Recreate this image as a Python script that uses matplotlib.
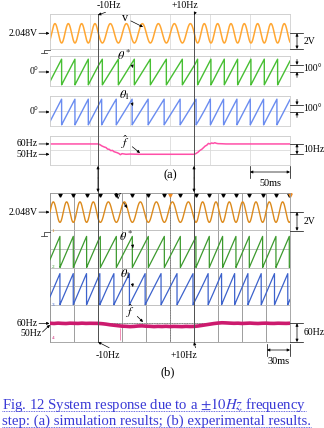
import numpy as np
import matplotlib
matplotlib.use('Agg')
import matplotlib.pyplot as plt
from matplotlib import transforms

plt.rcParams['font.family'] = ['Liberation Serif', 'DejaVu Serif']
plt.rcParams['mathtext.fontset'] = 'stix'

W, H = 324, 428

# ---- values ----
step_t = [60, 180]            # ms, -10Hz / +10Hz step instants
f_grid = [60, 50, 60]         # Hz, grid frequency in the three intervals
v_dc = 2.048                  # V offset
v_amp_a = 1.24                # V, simulated amplitude
v_amp_b = 1.1                 # V, measured amplitude
theta0_a = -135               # deg, phase at t=0 (a)
theta0_b = -90                # deg, phase at t=0 (b)

# estimated frequency, simulation (a)
fa_t = [0, 60, 62, 65, 68, 70, 72, 74, 76, 78, 80, 82, 84, 86, 88, 90, 95, 100, 110,
        180, 182, 185, 187, 190, 192, 194, 196, 198, 200, 202, 204, 206, 208, 210, 215, 220, 300]
fa_f = [60, 60, 59.5, 58, 57, 56.5, 55, 54.8, 53.5, 53.8, 52.5, 52, 51.5, 50.8, 49.6, 50.6, 50, 50.2, 50,
        50, 50.5, 52, 53.5, 55, 56.5, 58, 58.8, 60.5, 60, 61, 60.5, 61.2, 60.6, 60.3, 60.2, 60, 60]

# estimated frequency, experiment (b), every 5 ms
fb_t = list(range(0, 301, 5))
fb_f = [60.4, 59.6, 60.8, 60.0, 59.5, 60.6, 60.2, 59.8, 60.7, 59.9, 60.3, 60.1,
        60.0,
        59.0, 57.5, 55.5, 54.0, 52.5, 51.0, 50.5, 49.5,
        50.2, 51.5, 52.0, 51.0, 50.5, 49.6, 50.4, 49.8, 50.6, 49.7, 50.3, 50.0, 49.5, 50.4, 49.8, 50.2,
        51.5, 53.5, 55.5, 57.5, 59.5, 61.0, 62.0, 61.5,
        60.8, 60.2, 60.6, 59.7, 60.3, 60.9, 60.1, 59.6, 60.4, 60.7, 60.0, 59.8, 60.5, 60.2, 59.9, 60.4]
glitch_t = 87.5
glitch_f = [8, 45]

# colours
c_v, c_s, c_1, c_f = '#ffa733', '#47bf33', '#6a8cf0', '#ff4fa8'
cb_v, cb_s, cb_1, cb_f = '#dc8a1c', '#3c9a2e', '#3c62cc', '#cc1a6e'
c_cap = '#3a3ad6'

fig = plt.figure(figsize=(W / 100, H / 100), dpi=100)


def px_axes(x0, y0, x1, y1, **kw):
    return fig.add_axes([x0 / W, 1 - y1 / H, (x1 - x0) / W, (y1 - y0) / H], **kw)


# phase from frequency profile
t = np.linspace(0, 300, 6001)
dt = t[1] - t[0]
f_ref = np.select([t < step_t[0], t < step_t[1]], [f_grid[0], f_grid[1]], f_grid[2])


def phase(f, th0):
    return th0 + 360 * np.cumsum(f) * dt / 1000


ph_a = phase(f_ref, theta0_a)
ph_a1 = phase(np.interp(t, fa_t, fa_f), theta0_a)
ph_b = phase(f_ref, theta0_b)
ph_b1 = phase(np.interp(t, fb_t, fb_f), theta0_b)


def wrap180(p):
    return (p + 180) % 360 - 180


# ---------------- (a) simulation ----------------
def style_a(ax, ylim):
    ax.set_xlim(0, 300)
    ax.set_ylim(*ylim)
    ax.set_xticks(np.arange(0, 301, 50))
    ax.set_yticks(np.linspace(ylim[0], ylim[1], 3))
    ax.grid(True, color='#dadada', lw=0.6)
    ax.tick_params(length=0, labelbottom=False, labelleft=False)
    for s in ax.spines.values():
        s.set_color('#cfcfcf')
        s.set_linewidth(0.6)


ax_v = px_axes(50, 14, 290, 49.3)
ax_v.plot(t, v_dc + v_amp_a * np.cos(np.radians(ph_a)), color=c_v, lw=1.1)
style_a(ax_v, (0, 4.52))

ax_s = px_axes(50, 55.7, 290, 85.7)
ax_s.plot(t, wrap180(ph_a), color=c_s, lw=1.0)
style_a(ax_s, (-192, 228))

ax_1 = px_axes(50, 95.7, 290, 125.7)
ax_1.plot(t, wrap180(ph_a1), color=c_1, lw=1.0)
style_a(ax_1, (-192, 228))

ax_f = px_axes(50, 135.7, 290, 165)
ax_f.plot(fa_t, fa_f, color=c_f, lw=1.1)
style_a(ax_f, (39.6, 68))

# ---------------- (b) experiment ----------------
ax_b = px_axes(50, 193, 290, 342)
ax_b.set_xlim(0, 300)
ax_b.set_ylim(0, 8)
ax_b.set_xticks(np.arange(0, 301, 30))
ax_b.set_yticks(np.arange(0, 9))
ax_b.grid(axis='x', color='#8e8e8e', lw=0.6)
ax_b.grid(axis='y', color='#b8b8b8', lw=0.6)
ax_b.tick_params(length=0, labelbottom=False, labelleft=False)
for s in ax_b.spines.values():
    s.set_color('#9a9a9a')
    s.set_linewidth(0.6)
ax_b.axvline(150, color='#707070', lw=0.6, ls=(0, (1, 1)))
ax_b.axhline(1, color='#707070', lw=0.6, ls=(0, (1, 1)))

wraps = t[1:][np.diff((ph_b + 180) % 360) < -180]
ax_b.plot(wraps, np.full(len(wraps), 7.87), 'v', color='k', ms=2.4, clip_on=False)
ax_b.plot([150, 300], [7.9, 7.9], 'v', color='#f08a20', ms=2.4, clip_on=False)


def chan(ylim):
    a = fig.add_axes(ax_b.get_position(), frameon=False)
    a.set_xlim(0, 300)
    a.set_ylim(*ylim)
    a.axis('off')
    return a


ax_bv = chan((-11.9, 4.1))
ax_bv.plot(t, v_dc + v_amp_b * np.cos(np.radians(ph_b)), color=cb_v, lw=1.0)
ax_bs = chan((-860, 860))
ax_bs.plot(t, (ph_b + 180) % 360, color=cb_s, lw=0.9)
ax_b1 = chan((-430, 1290))
ax_b1.plot(t, (ph_b1 + 180) % 360, color=cb_1, lw=0.9)
ax_bf = chan((0, 480))
ax_bf.plot(fb_t, fb_f, color=cb_f, lw=2.6)
ax_bf.vlines(glitch_t, glitch_f[0], glitch_f[1], color='#f07aa8', lw=0.6)

# ---------------- overlay for annotations ----------------
ov = fig.add_axes([0, 0, 1, 1], frameon=False)
ov.set_xlim(0, W)
ov.set_ylim(H, 0)
ov.axis('off')


def ypx(ax, val):
    return H - ax.transData.transform((0, val))[1]


fs = 7.0
ap = dict(arrowstyle='-|>', lw=0.5, color='k', mutation_scale=4, shrinkA=0, shrinkB=0)
bt = transforms.blended_transform_factory(ax_v.transData, ov.transData)

# step lines
for ts in step_t:
    ov.plot([ts, ts], [14, 341], transform=bt, color='#505050', lw=0.7)
    ov.annotate('', xy=(ts, 166), xycoords=bt, xytext=(ts, 178), textcoords=bt, arrowprops=ap)
    ov.annotate('', xy=(ts, 192), xycoords=bt, xytext=(ts, 178), textcoords=bt, arrowprops=ap)

for ts, lab, xt in zip(step_t, ['-10Hz', '+10Hz'], [73, 168]):
    ov.annotate(lab, xy=(ts, 15), xycoords=bt, xytext=(xt, 5), ha='center', va='center',
                fontsize=fs, arrowprops=dict(ap, relpos=(1, 0.3)))
    ov.annotate(lab, xy=(ts, 342), xycoords=bt, xytext=(xt - 1, 355), ha='center', va='center',
                fontsize=fs, arrowprops=dict(ap, relpos=(1, 0.7)))


def left_label(txt, y, x_arrow0=39):
    ov.text(x_arrow0 - 1, y, txt, ha='right', va='center', fontsize=fs)
    ov.annotate('', xy=(49.5, y), xytext=(x_arrow0, y), arrowprops=ap)


def ground(y):
    ov.plot([50, 43.5, 43.5], [y, y, y + 3.5], color='#444', lw=0.6)
    ov.plot([40.5, 46.5], [y + 3.5, y + 3.5], color='#444', lw=0.6)


def bracket_in(y_top, y_bot, txt):
    for yy in (y_top, y_bot):
        ov.plot([290, 303], [yy, yy], color='k', lw=0.5)
    ov.annotate('', xy=(297, y_top), xytext=(297, y_bot),
                arrowprops=dict(ap, arrowstyle='<|-|>'))
    ov.text(303.5, (y_top + y_bot) / 2, txt, ha='left', va='center', fontsize=fs)


def bracket_out(y_top, y_bot, txt):
    for yy in (y_top, y_bot):
        ov.plot([290, 303], [yy, yy], color='k', lw=0.5)
    ov.annotate('', xy=(297, y_top), xytext=(297, y_top - 5.5), arrowprops=ap)
    ov.annotate('', xy=(297, y_bot), xytext=(297, y_bot + 5.5), arrowprops=ap)
    ov.text(303.5, (y_top + y_bot) / 2, txt, ha='left', va='center', fontsize=fs)


# (a) side labels
left_label('2.048V', ypx(ax_v, v_dc))
ground(ypx(ax_v, 0) + 0.5)
left_label('0°', ypx(ax_s, 0))
left_label('0°', ypx(ax_1, 0))
left_label('60Hz', ypx(ax_f, 60))
left_label('50Hz', ypx(ax_f, 50))
bracket_in(ypx(ax_v, v_dc), ypx(ax_v, v_dc - 2), '2V')
bracket_out(ypx(ax_s, 100), ypx(ax_s, 0), '100°')
bracket_out(ypx(ax_1, 100), ypx(ax_1, 0), '100°')
bracket_in(ypx(ax_f, 60), ypx(ax_f, 50), '10Hz')

# (b) side labels
left_label('2.048V', ypx(ax_bv, v_dc))
ground(ypx(ax_bv, 0) + 1)
left_label('60Hz', ypx(ax_bf, 60))
ov.text(42, 333.5, '50Hz', ha='right', va='center', fontsize=fs)
ov.annotate('', xy=(50, ypx(ax_bf, 60) + 1.5), xytext=(42.5, 332), arrowprops=ap)
bracket_in(ypx(ax_bv, v_dc), ypx(ax_bv, v_dc - 2), '2V')
bracket_in(ypx(ax_bf, 60), ypx(ax_bf, 0), '60Hz')
for num, col, y in zip('1234', [cb_v, cb_s, cb_1, cb_f],
                       [ypx(ax_bv, 0), ypx(ax_bs, 0), ypx(ax_b1, 0), 338]):
    ov.text(52, y, num, color=col, fontsize=3.8, ha='left', va='center')

# signal name labels
for txt, xy_t, xy_a in [('v', (125, 18), (143, 27)),
                        (r'$\theta^*$', (124, 56), (133, 68)),
                        (r'$\theta_1$', (125, 95), (133, 106)),
                        (r'$\hat{f}$', (125, 142), (140, 153)),
                        ('v', (118, 196), (127, 208)),
                        (r'$\theta^*$', (126, 237), (133, 248)),
                        (r'$\theta_1$', (126, 274), (133, 287)),
                        (r'$\hat{f}$', (130, 311), (143, 322))]:
    ov.annotate(txt, xy=xy_a, xytext=xy_t, ha='center', va='center', fontsize=8.8,
                arrowprops=dict(ap, relpos=(0.9, 0.4)))


def time_bar(x0, x1, y, txt, ty):
    ov.annotate('', xy=(x0, y), xytext=(x1, y), arrowprops=dict(ap, arrowstyle='<|-|>'))
    for xx in (x0, x1):
        ov.plot([xx, xx], [y - 6, y + 6], color='k', lw=0.5)
    ov.text((x0 + x1) / 2, ty, txt, ha='center', va='center', fontsize=7.4)


time_bar(250, 290, 172, '50ms', 183)
time_bar(267, 290, 350, '30ms', 361)

ov.text(170, 175, '(a)', ha='center', va='center', fontsize=9)
ov.text(168, 372, '(b)', ha='center', va='center', fontsize=9)

# caption
cap1 = ov.text(2, 409, r'Fig. 12 System response due to a $\pm10Hz$ frequency',
               ha='left', va='baseline', fontsize=10.6, color=c_cap)
cap2 = ov.text(2, 425, 'step: (a) simulation results; (b) experimental results.',
               ha='left', va='baseline', fontsize=10.6, color=c_cap)
fig.canvas.draw()
for cap, yu in ((cap1, 411.3), (cap2, 427.3)):
    bb = cap.get_window_extent()
    ov.plot([bb.x0, bb.x1], [yu, yu], color=c_cap, lw=0.6, ls=(0, (1, 1)))

fig.savefig('out.png', dpi=100)
